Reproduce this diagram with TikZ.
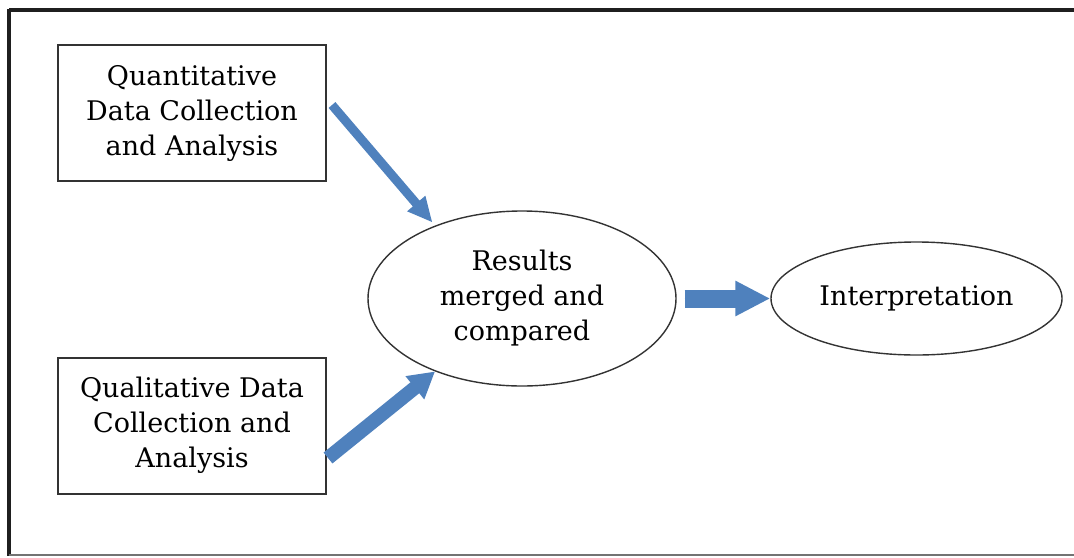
\documentclass[tikz,border=0pt]{standalone}
\usepackage{fontspec}
\setmainfont{DejaVu Serif}
\usetikzlibrary{arrows.meta,shapes.geometric}
\definecolor{flowblue}{HTML}{4F81BD}
\definecolor{inkgray}{HTML}{333333}
\tikzset{
  stagebox/.style={draw=inkgray, line width=1pt, align=center, inner sep=0pt,
    minimum width=134pt, minimum height=68pt, font=\fontsize{13.5}{17.5}\selectfont},
  stageoval/.style={draw=inkgray, ellipse, line width=0.7pt, align=center, inner sep=0pt,
    font=\fontsize{13.5}{17.5}\selectfont},
  flow/.style={draw=flowblue, fill=flowblue, line cap=butt},
}
\begin{document}
\begin{tikzpicture}[x=0.5pt, y=-0.5pt]
\useasboundingbox (0,0) rectangle (1074,557);
% page frame (right side runs off the page)
\draw[line width=2pt, color=black!88] (9,9.5) -- (1074,9.5);
\draw[line width=2pt, color=black!88] (9,8.5) -- (9,556);
\draw[line width=1pt, color=black!55] (9,555) -- (1074,555);

\node[stagebox] (quant) at (192,113) {Quantitative\\Data Collection\\and Analysis};
\node[stagebox] (qual) at (192,425.5) {Qualitative Data\\Collection and\\Analysis};
\node[stageoval, minimum width=154pt, minimum height=87.5pt] (merge) at (522,298.5) {Results\\merged and\\compared};
\node[stageoval, minimum width=145.5pt, minimum height=56.5pt] (interp) at (916.5,298.5) {Interpretation};

\coordinate (qtstart) at (332,105);
\coordinate (qlstart) at (328,458);

\draw[flow, line width=4.5pt, shorten >=2pt, -{Triangle[width=11pt, length=12.5pt]}] (qtstart) -- (merge.140);
\draw[flow, line width=7pt, -{Triangle[width=14pt, length=13pt]}] (qlstart) -- (merge.220);
\draw[flow, line width=9pt, shorten <=4pt, -{Triangle[width=16.5pt, length=17.5pt]}] (merge.east) -- (interp.west);
\end{tikzpicture}
\end{document}
